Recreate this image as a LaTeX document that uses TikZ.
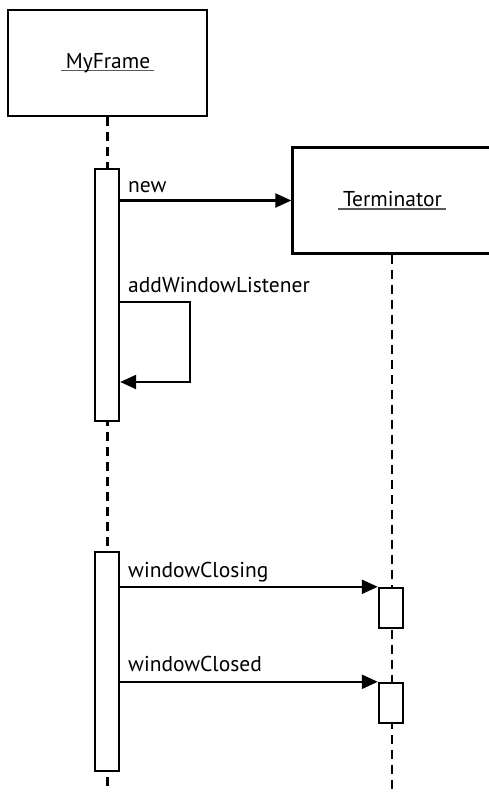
\documentclass[tikz,border=0pt]{standalone}
\usepackage{fontspec}
\setmainfont{PT Sans}
\usetikzlibrary{arrows.meta}

% object name with the rule running through the descenders
\newcommand{\objname}[1]{%
  \setbox0\hbox{\hspace{5pt}#1\hspace{4pt}}%
  \rlap{\color{black!65}\rule[-3pt]{\wd0}{1.2pt}}\box0}

\tikzset{
  object/.style={draw, line width=2.4pt, minimum width=199pt, minimum height=106pt,
    font=\fontsize{21.5}{26}\selectfont},
  activation/.style={draw, fill=white, line width=2.4pt, minimum width=24pt, inner sep=0pt},
  lifeline/.style={line width=2.2pt, dash pattern=on 9pt off 6pt},
  call/.style={line width=2.4pt, -{Triangle[length=16pt,width=14pt]}},
  msg/.style={anchor=base west, inner sep=0pt, font=\fontsize{21.5}{26}\selectfont}
}

\begin{document}
\begin{tikzpicture}[x=1pt, y=-1pt]
	\useasboundingbox (0,0) rectangle (488,792);

	% objects
	\node [object] (frame) at (107.5,63) {\objname{MyFrame}};
	\node [object] (term) at (392,200.5) {\objname{Terminator}};

	% lifelines
	\draw [lifeline] (frame.south) -- (frame.south |- 0,800);
	\draw [lifeline] (term.south) -- (term.south |- 0,800);

	% activation bars
	\node [activation, minimum height=252pt] (frameAct1) at (107,295) {};
	\node [activation, minimum height=219pt] (frameAct2) at (107,661.5) {};
	\node [activation, minimum height=40pt] (termAct1) at (391,608) {};
	\node [activation, minimum height=40pt] (termAct2) at (391,703) {};

	% messages
	\draw [call] (frameAct1.east |- term.west) -- (term.west);
	\node [msg] (newLbl) at (128,192) {new};

	\draw [call] (frameAct1.east |- 0,302) -| (190,382) -- (frameAct1.east |- 0,382);
	\node [msg] (addLbl) at (128,292) {addWindowListener};

	\draw [call] (frameAct2.east |- termAct1.north) -- (termAct1.north west);
	\node [msg] (closingLbl) at (128,577) {windowClosing};

	\draw [call] (frameAct2.east |- termAct2.north) -- (termAct2.north west);
	\node [msg] (closedLbl) at (128,671) {windowClosed};
\end{tikzpicture}
\end{document}
